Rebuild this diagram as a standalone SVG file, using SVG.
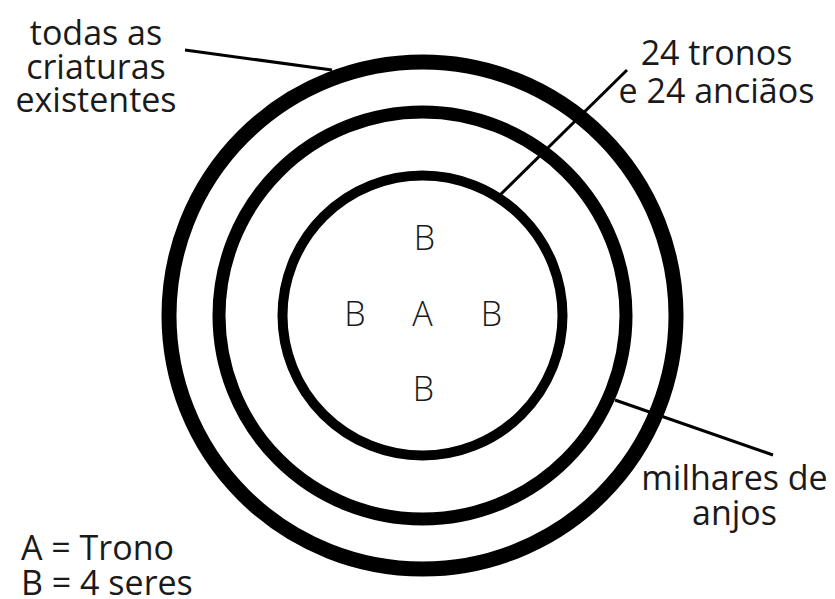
<svg xmlns="http://www.w3.org/2000/svg" width="835" height="599" viewBox="0 0 835 599">
<style>
.ring{fill:none;stroke:#000}
.lbl{font-family:"Open Sans","Noto Sans","Liberation Sans",sans-serif;font-size:34px;fill:#1a1a1a}
.ltr{font-family:"Open Sans","Noto Sans","Liberation Sans",sans-serif;font-size:34px;font-weight:300;fill:#1a1a1a;text-anchor:middle}
.ld{stroke:#000;stroke-width:3;fill:none}
</style>
<rect width="835" height="599" fill="#fff"/>
<g id="outer"><circle class="ring" cx="422.5" cy="315.5" r="253.5" stroke-width="15"/></g>
<g id="middle"><circle class="ring" cx="422.5" cy="315.5" r="203.5" stroke-width="13"/></g>
<g id="inner"><circle class="ring" cx="422.5" cy="315.5" r="140" stroke-width="10"/>
<text class="ltr" x="424.5" y="250">B</text>
<text class="ltr" x="355" y="326">B</text>
<text class="ltr" x="422.5" y="326">A</text>
<text class="ltr" x="491.5" y="326">B</text>
<text class="ltr" x="423.5" y="401">B</text>
</g>
<g id="connectors">
<line class="ld" x1="185" y1="50" x2="332" y2="70"/>
<line class="ld" x1="500" y1="195" x2="627" y2="70"/>
<line class="ld" x1="615" y1="400" x2="773" y2="455"/>
</g>
<g id="label-criaturas" class="lbl" text-anchor="middle">
<text x="96" y="45">todas as</text>
<text x="96" y="79">criaturas</text>
<text x="96" y="112">existentes</text>
</g>
<g id="label-tronos" class="lbl" text-anchor="middle">
<text x="716.5" y="65">24 tronos</text>
<text x="716.5" y="103">e 24 anciãos</text>
</g>
<g id="label-anjos" class="lbl" text-anchor="middle">
<text x="734.5" y="490">milhares de</text>
<text x="734.5" y="525">anjos</text>
</g>
<g id="legend" class="lbl">
<text x="21" y="560">A = Trono</text>
<text x="21" y="595">B = 4 seres</text>
</g>
</svg>
